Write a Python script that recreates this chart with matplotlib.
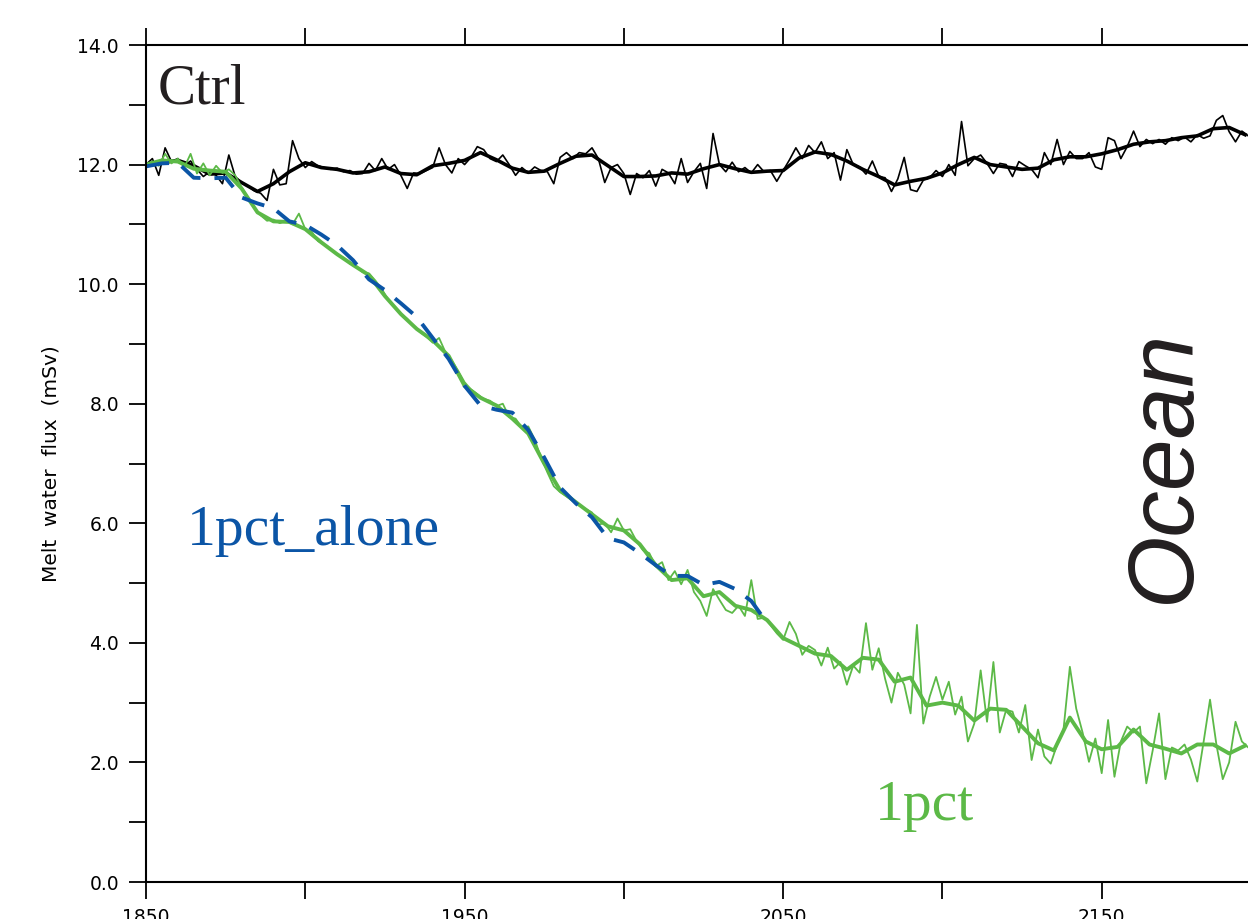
import numpy as np
import matplotlib
matplotlib.use('Agg')
import matplotlib.pyplot as plt

# annual-ish values (2-year steps starting 1850)
ctrl_raw = [12.00, 12.10, 11.82, 12.28, 12.05, 12.10, 11.98, 12.06, 11.92, 11.80,
            11.88, 11.82, 11.68, 12.16, 11.80, 11.70, 11.64, 11.56, 11.52, 11.40,
            11.92, 11.66, 11.68, 12.40, 12.10, 11.95, 12.05, 11.98, 11.95, 11.92,
            11.94, 11.88, 11.90, 11.84, 11.85, 12.02, 11.90, 12.10, 11.92, 12.00,
            11.82, 11.60, 11.86, 11.85, 11.90, 11.95, 12.28, 12.00, 11.86, 12.10,
            12.00, 12.12, 12.30, 12.25, 12.10, 12.05, 12.16, 12.00, 11.82, 11.95,
            11.86, 11.96, 11.90, 11.88, 11.68, 12.12, 12.20, 12.10, 12.20, 12.18,
            12.28, 12.10, 11.70, 11.95, 12.00, 11.85, 11.50, 11.85, 11.78, 11.90,
            11.64, 11.92, 11.86, 11.68, 12.10, 11.70, 11.88, 12.02, 11.60, 12.52,
            12.00, 11.88, 12.04, 11.88, 11.95, 11.86, 12.00, 11.88, 11.90, 11.72,
            11.90, 12.08, 12.28, 12.10, 12.32, 12.20, 12.38, 12.10, 12.20, 11.74,
            12.25, 12.00, 11.96, 11.84, 12.06, 11.80, 11.78, 11.55, 11.76, 12.12,
            11.58, 11.55, 11.74, 11.78, 11.90, 11.80, 12.00, 11.82, 12.72, 11.98,
            12.10, 12.16, 12.02, 11.85, 12.02, 12.00, 11.80, 12.05, 11.98, 11.92,
            11.78, 12.20, 12.00, 12.42, 12.00, 12.22, 12.10, 12.10, 12.20, 11.96,
            11.92, 12.45, 12.40, 12.10, 12.30, 12.56, 12.30, 12.42, 12.35, 12.42,
            12.34, 12.45, 12.40, 12.46, 12.38, 12.50, 12.44, 12.48, 12.74, 12.82,
            12.55, 12.38, 12.56, 12.48]

pct_raw = [12.00, 12.05, 11.98, 12.18, 12.02, 12.10, 11.95, 12.18, 11.85, 12.02,
           11.82, 11.98, 11.86, 11.92, 11.82, 11.62, 11.45, 11.28, 11.15, 11.06,
           11.08, 11.02, 11.06, 11.00, 11.18, 10.92, 10.88, 10.72, 10.66, 10.58,
           10.50, 10.44, 10.34, 10.30, 10.20, 10.18, 10.06, 9.92, 9.74, 9.62,
           9.50, 9.42, 9.30, 9.20, 9.12, 9.02, 9.10, 8.86, 8.72, 8.55,
           8.36, 8.24, 8.16, 8.08, 8.05, 7.96, 8.00, 7.78, 7.75, 7.60,
           7.62, 7.40, 7.10, 6.85, 6.62, 6.52, 6.45, 6.38, 6.30, 6.24,
           6.18, 5.98, 6.00, 5.85, 6.08, 5.88, 5.90, 5.70, 5.55, 5.50,
           5.28, 5.35, 5.05, 5.20, 4.98, 5.22, 4.85, 4.70, 4.45, 4.90,
           4.72, 4.55, 4.50, 4.62, 4.45, 5.05, 4.40, 4.42, 4.30, 4.16,
           4.05, 4.35, 4.15, 3.80, 3.95, 3.88, 3.62, 3.92, 3.57, 3.68,
           3.30, 3.62, 3.50, 4.33, 3.55, 3.91, 3.40, 3.00, 3.50, 3.30,
           2.82, 4.30, 2.65, 3.10, 3.43, 3.05, 3.35, 2.80, 3.10, 2.35,
           2.65, 3.54, 2.68, 3.68, 2.50, 2.88, 2.85, 2.50, 2.96, 2.04,
           2.55, 2.10, 1.98, 2.30, 2.55, 3.60, 2.90, 2.50, 2.01, 2.40,
           1.82, 2.71, 1.76, 2.35, 2.60, 2.50, 2.60, 1.65, 2.20, 2.82,
           1.72, 2.25, 2.20, 2.30, 2.05, 1.68, 2.35, 3.05, 2.30, 1.72,
           2.00, 2.68, 2.35, 2.25]

# smoothed curves (5-year steps starting 1850)
ctrl_smooth = [12.00, 12.03, 12.07, 11.98, 11.84, 11.86, 11.70, 11.55, 11.68, 11.88,
               12.03, 11.95, 11.92, 11.86, 11.88, 11.96, 11.85, 11.83, 11.98, 12.02,
               12.07, 12.20, 12.08, 11.94, 11.87, 11.89, 12.02, 12.14, 12.16, 11.98,
               11.80, 11.80, 11.81, 11.86, 11.84, 11.93, 12.00, 11.93, 11.87, 11.89,
               11.90, 12.11, 12.21, 12.17, 12.06, 11.92, 11.80, 11.66, 11.72, 11.77,
               11.86, 12.00, 12.12, 12.00, 11.96, 11.92, 11.94, 12.08, 12.13, 12.13,
               12.18, 12.25, 12.34, 12.38, 12.40, 12.45, 12.48, 12.60, 12.62, 12.50]

pct_smooth = [12.00, 12.07, 12.05, 11.93, 11.90, 11.88, 11.60, 11.20, 11.05, 11.04,
              10.92, 10.70, 10.50, 10.32, 10.15, 9.80, 9.50, 9.25, 9.06, 8.80,
              8.30, 8.10, 7.97, 7.75, 7.50, 7.00, 6.55, 6.35, 6.15, 5.95,
              5.88, 5.65, 5.30, 5.05, 5.08, 4.78, 4.85, 4.62, 4.55, 4.38,
              4.08, 3.95, 3.82, 3.78, 3.55, 3.75, 3.72, 3.35, 3.42, 2.95,
              3.00, 2.95, 2.70, 2.90, 2.88, 2.60, 2.32, 2.20, 2.75, 2.35,
              2.22, 2.26, 2.55, 2.30, 2.23, 2.15, 2.30, 2.30, 2.15, 2.28]

alone_smooth = [11.97, 12.02, 12.03, 11.78, 11.77, 11.78, 11.45, 11.35, 11.27, 11.05,
                10.99, 10.83, 10.65, 10.40, 10.08, 9.90, 9.68, 9.45, 9.10, 8.75,
                8.30, 7.97, 7.90, 7.85, 7.56, 7.10, 6.60, 6.33, 6.10, 5.75,
                5.68, 5.50, 5.30, 5.12, 5.12, 4.97, 5.02, 4.90, 4.70, 4.33]

yrs_raw_c = 1850 + 2 * np.arange(len(ctrl_raw))
yrs_raw_p = 1850 + 2 * np.arange(len(pct_raw))
yrs_c = 1850 + 5 * np.arange(len(ctrl_smooth))
yrs_p = 1850 + 5 * np.arange(len(pct_smooth))
yrs_a = 1850 + 5 * np.arange(len(alone_smooth))

green = '#5cb947'
blue = '#0b55a6'

W, H = 1248, 919
fig = plt.figure(figsize=(W / 100, H / 100), dpi=100)
# plot extends past the right edge of the picture, like the cropped original
ax = fig.add_axes([146 / W, 1 - 882 / H, (1261 - 146) / W, (882 - 45) / H])

ax.plot(yrs_raw_c, ctrl_raw, color='black', lw=1.2)
ax.plot(yrs_c, ctrl_smooth, color='black', lw=2.6)
ax.plot(yrs_raw_p, pct_raw, color=green, lw=1.3)
ax.plot(yrs_p, pct_smooth, color=green, lw=2.8)
ax.plot(yrs_a, alone_smooth, color=blue, lw=2.8, dashes=(6, 3.6))

ax.set_xlim(1850, 2200)
ax.set_ylim(0, 14)
ax.set_xticks([1850, 1950, 2050, 2150])
ax.set_xticks([1900, 2000, 2100, 2200], minor=True)
ax.set_yticks(np.arange(0, 15, 2))
ax.set_yticks(np.arange(1, 14, 2), minor=True)
ax.set_yticklabels(['%.1f' % v for v in np.arange(0, 15, 2)])
ax.tick_params(which='both', direction='out', length=12.5, width=1.3,
               top=True, labelsize=13.5, pad=7)
ax.tick_params(axis='x', pad=6)
for s in ax.spines.values():
    s.set_linewidth(1.5)

ax.set_ylabel('Melt  water  flux  (mSv)', fontsize=14.5, labelpad=12)

serif = 'Liberation Serif'
fig.text(158 / W, 1 - 103 / H, 'Ctrl', fontsize=41, family=serif, color='#231f20')
fig.text(187 / W, 1 - 545 / H, '1pct_alone', fontsize=41.5, family=serif, color=blue)
fig.text(875 / W, 1 - 820 / H, '1pct', fontsize=41.5, family=serif, color=green)
fig.text(1165 / W, 1 - 466 / H, 'Ocean', fontsize=67, family='Liberation Sans',
         style='italic', rotation=90, ha='center', va='center', color='#231f20')

plt.savefig('out.png', dpi=100)
